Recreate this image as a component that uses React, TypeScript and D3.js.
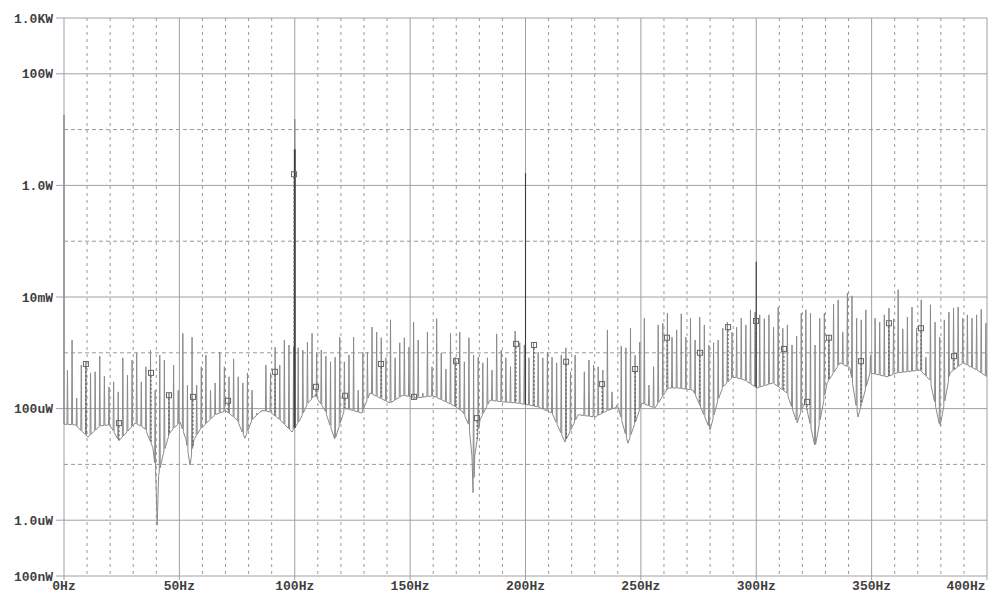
import React, { useEffect, useRef } from 'react';
import * as d3 from 'd3';

// power values are kept in dBW, converted to W for the log axis
const peakDb = [
  -33.1, -27.7, -38.1, -32.2, -31.6, -33.6, -33.4, -30.6, -34.2, -36.1,
  -35.2, -37.0, -30.9, -34.0, -31.3, -30.0, -35.2, -32.5, -29.5, -36.7,
  -30.4, -31.3, -37.2, -32.2, -36.7, -26.5, -35.8, -27.2, -35.8, -32.5,
  -30.4, -36.7, -35.4, -29.9, -32.5, -34.3, -31.1, -34.3, -35.4, -33.6,
  -36.7, -40.8, -40.6, -32.2, -33.6, -29.0, -32.2, -27.7, -28.6, -29.0,
  -29.1, -29.5, -28.1, -26.5, -30.0, -29.5, -30.6, -31.6, -30.8, -27.2,
  -31.6, -30.4, -27.2, -36.7, -29.9, -29.9, -25.4, -26.3, -27.3, -30.9,
  -24.1, -30.9, -28.2, -27.3, -29.0, -24.5, -27.7, -37.2, -26.3, -32.5,
  -23.9, -30.0, -32.9, -26.5, -30.8, -26.3, -31.6, -27.3, -30.4, -30.8,
  -31.8, -30.9, -33.1, -26.6, -29.5, -30.9, -32.5, -26.1, -28.2, -28.6,
  -30.9, -28.2, -29.9, -30.9, -29.9, -30.8, -31.8, -30.4, -29.1, -33.4,
  -30.4, -41.1, -33.4, -31.3, -32.2, -32.5, -33.1, -25.9, -37.0, -39.4,
  -28.8, -29.1, -25.6, -30.4, -28.1, -23.8, -35.8, -32.5, -25.0, -24.7,
  -22.9, -27.2, -25.9, -23.0, -27.2, -23.8, -27.7, -23.6, -25.0, -28.6,
  -28.2, -27.7, -25.6, -24.5, -26.3, -25.4, -23.8, -25.0, -22.3, -22.7,
  -23.2, -23.9, -23.2, -25.4, -21.8, -25.6, -25.0, -28.6, -27.0, -22.9,
  -22.3, -22.9, -28.6, -23.8, -22.9, -26.8, -21.3, -20.5, -26.3, -19.3,
  -19.8, -23.8, -24.1, -22.3, -30.4, -23.8, -24.5, -23.2, -22.0, -23.9,
  -18.7, -25.7, -23.6, -21.8, -25.6, -20.5, -30.8, -21.4, -24.5, -27.2,
  -24.1, -22.7, -22.0, -21.8, -23.8, -23.2, -23.8, -23.2, -22.2, -24.7,
];

const floorFreq = [
  0, 4.8, 10.4, 15.6, 19.9, 23.8, 30.8, 35.1, 38.5, 39.8, 40.4, 41.0, 42.9, 45.9, 50.3,
  52.9, 54.6, 56.3, 58.9, 65.4, 70.2, 75.0, 78.4, 81.5, 85.8, 89.3, 93.6, 98.8, 102.3,
  105.7, 108.8, 113.1, 117.4, 121.8, 124.8, 129.1, 132.6, 141.3, 146.9, 153.0, 159.9,
  168.6, 172.9, 175.5, 176.8, 177.4, 178.0, 180.3, 184.6, 190.2, 196.3, 202.0, 205.4,
  211.5, 217.1, 222.8, 230.1, 235.8, 240.1, 244.4, 250.5, 256.1, 261.8, 266.1, 272.6,
  275.6, 280.0, 283.4, 285.6, 289.9, 295.1, 300.3, 307.3, 313.3, 317.7, 321.1, 325.5,
  330.7, 336.3, 340.6, 344.1, 349.3, 356.7, 361.0, 371.0, 375.3, 379.6, 384.0, 389.6,
  395.7, 400,
];
const floorDb = [
  -42.8, -42.9, -45.1, -43.1, -42.9, -45.8, -42.6, -43.5, -47.0, -51.5, -60.9, -52.0, -48.3, -44.2, -42.4,
  -45.6, -50.1, -45.6, -43.8, -41.1, -40.4, -42.0, -45.3, -42.0, -40.3, -40.6, -42.0, -44.2, -42.0,
  -39.0, -37.6, -40.3, -45.6, -39.9, -40.3, -40.8, -37.2, -39.0, -37.6, -38.1, -37.7,
  -39.4, -40.6, -43.0, -48.5, -56.7, -48.5, -42.0, -38.5, -38.8, -39.0, -39.4, -39.7,
  -40.8, -46.0, -41.1, -41.5, -40.3, -39.7, -46.2, -39.0, -39.9, -36.3, -36.3, -36.7,
  -39.4, -43.8, -38.5, -36.1, -34.3, -34.9, -36.3, -35.4, -37.2, -42.6, -38.5, -46.9,
  -35.4, -31.8, -32.7, -41.5, -33.6, -34.3, -33.6, -33.1, -34.9, -43.3, -33.6, -31.8,
  -33.1, -34.3,
];

// tall single lines
const grayLineFreq = [0, 100];
const grayLineDb = [12.6, 11.9];
const darkLineFreq = [100, 200, 300];
const darkLineDb = [6.5, 2.2, -13.7];

const markerFreq = [
  9.5, 23.8, 37.7, 45.5, 55.9, 71.1, 91.4, 99.7, 109.2, 121.8, 137.4, 151.7, 169.9, 179.0, 195.9,
  203.7, 217.6, 233.2, 247.5, 261.3, 275.6, 287.8, 299.9, 312.0, 322.0, 331.5, 345.4, 357.5, 371.4, 385.7,
];
const markerDb = [
  -32.0, -42.6, -33.6, -37.6, -37.9, -38.6, -33.4, 2.0, -36.1, -37.7, -32.0, -37.9, -31.5, -41.7, -28.4,
  -28.6, -31.6, -35.6, -32.9, -27.3, -30.0, -25.4, -24.3, -29.3, -38.8, -27.3, -31.5, -24.7, -25.6, -30.6,
];

const yMajor = [1e3, 1e2, 1, 1e-2, 1e-4, 1e-6, 1e-7];
const yMajorLabels = ['1.0KW', '100W', '1.0W', '10mW', '100uW', '1.0uW', '100nW'];
const yMinor = [10, 0.1, 1e-3, 1e-5];
const xMajor = [0, 50, 100, 150, 200, 250, 300, 350, 400];
const xMajorLabels = ['0Hz', '50Hz', '100Hz', '150Hz', '200Hz', '250Hz', '300Hz', '350Hz', '400Hz'];

const watt = (db: number) => Math.pow(10, db / 10);

export default () => {
  const svgRef = useRef<SVGSVGElement>(null);

  useEffect(() => {
    if (!svgRef.current) {
      return;
    }
    const svg = d3.select(svgRef.current);
    svg.selectAll('*').remove();

    const left = 64, right = 987, top = 18, bottom = 576;
    const x = d3.scaleLinear().domain([0, 400]).range([left, right]);
    const y = d3.scaleLog().domain([1e-7, 1e3]).range([bottom, top]);
    const floor = d3.scaleLinear().domain(floorFreq).range(floorDb).clamp(true);

    const xMinor = d3.range(10, 400, 10).filter(f => f % 50 !== 0);

    // grid
    const grid = svg.append('g');
    grid.selectAll('.xm')
      .data(xMinor)
      .enter()
      .append('line')
      .attr('x1', d => x(d)).attr('x2', d => x(d))
      .attr('y1', top).attr('y2', bottom)
      .attr('stroke', '#9a9a9a')
      .attr('stroke-dasharray', '3,4');
    grid.selectAll('.ym')
      .data(yMinor)
      .enter()
      .append('line')
      .attr('x1', left).attr('x2', right)
      .attr('y1', d => y(d)).attr('y2', d => y(d))
      .attr('stroke', '#9a9a9a')
      .attr('stroke-dasharray', '4,3');
    grid.selectAll('.xM')
      .data(xMajor)
      .enter()
      .append('line')
      .attr('x1', d => x(d)).attr('x2', d => x(d))
      .attr('y1', top).attr('y2', bottom + 4)
      .attr('stroke', '#a0a0a0');
    grid.selectAll('.yM')
      .data(yMajor)
      .enter()
      .append('line')
      .attr('x1', left - 8).attr('x2', right)
      .attr('y1', d => y(d)).attr('y2', d => y(d))
      .attr('stroke', '#a0a0a0');

    // gray trace: floor with narrow spikes every ~2 Hz
    const pts: [number, number][] = [];
    const spikeFreq = peakDb.map((_, k) => 2 * k + 1.5);
    floorFreq.forEach(f => {
      if (spikeFreq.every(s => Math.abs(s - f) > 0.4)) pts.push([f, floor(f)]);
    });
    spikeFreq.forEach((f, k) => {
      pts.push([f - 0.22, floor(f - 0.22)]);
      pts.push([f, peakDb[k]]);
      pts.push([f + 0.22, floor(f + 0.22)]);
    });
    pts.sort((a, b) => a[0] - b[0]);

    const line = d3.line<[number, number]>()
      .x(d => x(d[0]))
      .y(d => y(watt(d[1])));

    svg.append('path')
      .attr('d', line(pts))
      .attr('fill', 'none')
      .attr('stroke', '#8a8a8a')
      .attr('stroke-width', 1);

    svg.selectAll('.gl')
      .data(grayLineFreq)
      .enter()
      .append('line')
      .attr('x1', d => x(d)).attr('x2', d => x(d))
      .attr('y1', d => y(watt(floor(d))))
      .attr('y2', (d, i) => y(watt(grayLineDb[i])))
      .attr('stroke', '#8a8a8a')
      .attr('stroke-width', 1.4);

    svg.selectAll('.dl')
      .data(darkLineFreq)
      .enter()
      .append('line')
      .attr('x1', d => x(d)).attr('x2', d => x(d))
      .attr('y1', d => y(watt(floor(d))))
      .attr('y2', (d, i) => y(watt(darkLineDb[i])))
      .attr('stroke', '#3a3a3a')
      .attr('stroke-width', (d, i) => (i === 0 ? 1.8 : 1.1));

    // marker trace: dashed drop to the floor and small open squares
    const mk = svg.append('g');
    mk.selectAll('line')
      .data(markerFreq)
      .enter()
      .append('line')
      .attr('x1', d => x(d)).attr('x2', d => x(d))
      .attr('y1', (d, i) => y(watt(markerDb[i])) + 3)
      .attr('y2', d => y(watt(floor(d))))
      .attr('stroke', '#555')
      .attr('stroke-dasharray', '2,2');
    mk.selectAll('rect')
      .data(markerFreq)
      .enter()
      .append('rect')
      .attr('x', d => x(d) - 2.5)
      .attr('y', (d, i) => y(watt(markerDb[i])) - 2.5)
      .attr('width', 5)
      .attr('height', 5)
      .attr('fill', 'none')
      .attr('stroke', '#666');

    // labels
    const font = "'Liberation Mono', 'DejaVu Sans Mono', monospace";
    svg.selectAll('.yl')
      .data(yMajor)
      .enter()
      .append('text')
      .attr('x', 53)
      .attr('y', d => y(d))
      .attr('dy', '0.35em')
      .attr('text-anchor', 'end')
      .attr('font-family', font)
      .attr('font-weight', 'bold')
      .attr('font-size', 13)
      .attr('fill', '#404040')
      .text((d, i) => yMajorLabels[i]);
    svg.selectAll('.xl')
      .data(xMajor)
      .enter()
      .append('text')
      .attr('x', d => Math.min(x(d), 966))
      .attr('y', 590)
      .attr('text-anchor', 'middle')
      .attr('font-family', font)
      .attr('font-weight', 'bold')
      .attr('font-size', 13)
      .attr('fill', '#404040')
      .text((d, i) => xMajorLabels[i]);
  }, []);

  return (
    <svg
      ref={svgRef}
      width={988}
      height={595}
      style={{ position: 'absolute', left: 0, top: 0, background: '#fff' }}
    />
  );
};
